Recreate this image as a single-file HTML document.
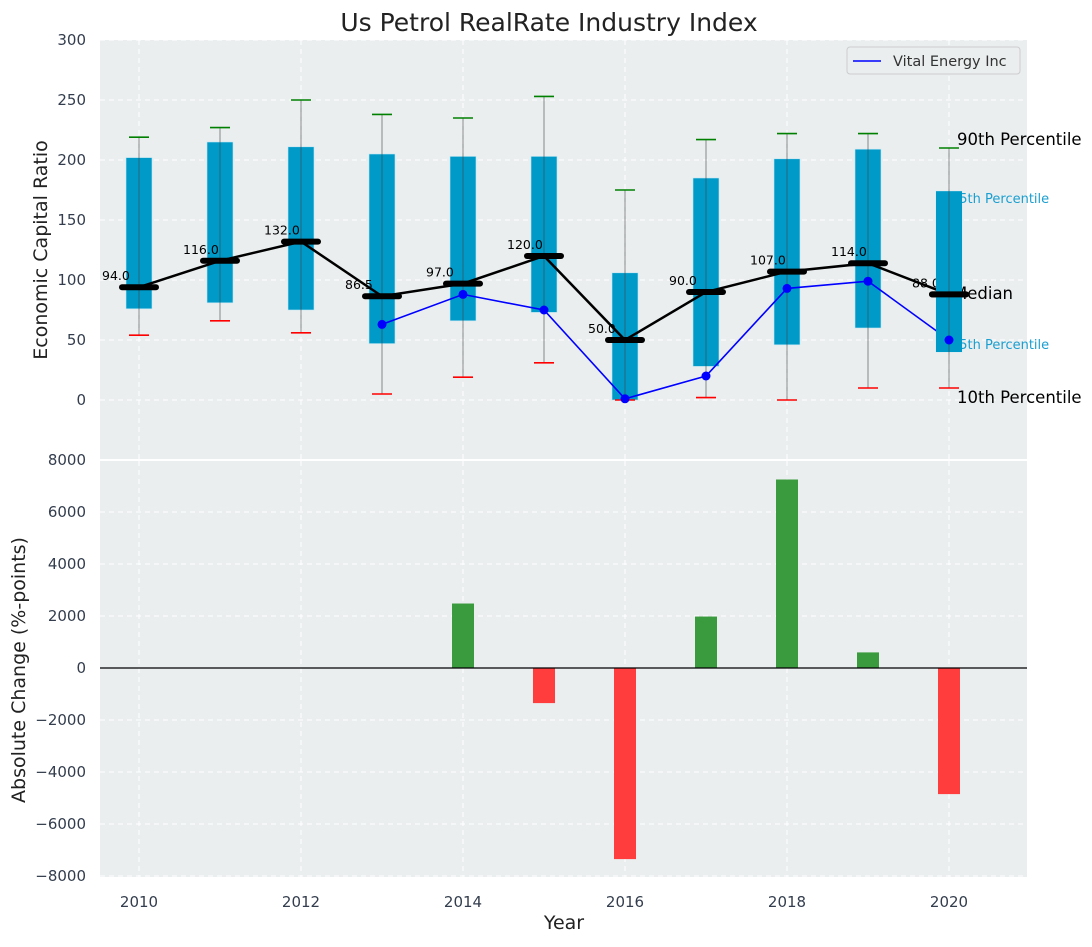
<!DOCTYPE html>
<html><head><meta charset="utf-8"><style>
body{margin:0;background:#fff;font-family:"Liberation Sans","DejaVu Sans",sans-serif}
svg text{font-family:"DejaVu Sans","Liberation Sans",sans-serif}
</style></head><body>
<svg id="chart" width="1092" height="942" xmlns="http://www.w3.org/2000/svg">
<rect width="1092" height="942" fill="#fff"/>
<text x="549" y="31" font-size="25" text-anchor="middle" fill="#222">Us Petrol RealRate Industry Index</text>
<g id="topPanel"></g>
<g id="botPanel"></g>
</svg>
<script>
const years=[2010,2011,2012,2013,2014,2015,2016,2017,2018,2019,2020];
const p10=[54,66,56,5,19,31,0,2,0,10,10];
const p25=[76,81,75,47,66,73,0,28,46,60,40];
const p50=[94,116,132,86.5,97,120,50,90,107,114,88];
const p75=[202,215,211,205,203,203,106,185,201,209,174];
const p90=[219,227,250,238,235,253,175,217,222,222,210];
const vitalYears=[2013,2014,2015,2016,2017,2018,2019,2020];
const vitalVals=[63,88,75,1,20,93,99,50];
const changeYears=[2014,2015,2016,2017,2018,2019,2020];
const changeVals=[2480,-1350,-7350,1980,7250,600,-4850];
const topTicks=[0,50,100,150,200,250,300];
const botTicks=[-8000,-6000,-4000,-2000,0,2000,4000,6000,8000];
const xTicks=[2010,2012,2014,2016,2018,2020];

const NS="http://www.w3.org/2000/svg";
const L=100,R=1027;
const xs=y=>139+81*(y-2010);
const yt=v=>400-1.2*v;
const yb=v=>668-0.026*v;
function mk(p,tag,a,txt){const el=document.createElementNS(NS,tag);for(const k in a)el.setAttribute(k,a[k]);if(txt!=null)el.textContent=txt;p.appendChild(el);return el;}
const topG=document.getElementById('topPanel'),botG=document.getElementById('botPanel');
let e;

e=mk(topG,'rect',{x:L,y:40,width:R-L,height:419,fill:'#eaeeef'});


e=mk(botG,'rect',{x:L,y:461,width:R-L,height:416,fill:'#eaeeef'});



xTicks.forEach(t=>{
 e=mk(topG,'line',{x1:xs(t),x2:xs(t),y1:40,y2:459,stroke:'#fff','stroke-dasharray':'5,4','stroke-width':1});
 
 
 e=mk(botG,'line',{x1:xs(t),x2:xs(t),y1:461,y2:877,stroke:'#fff','stroke-dasharray':'5,4','stroke-width':1});
 
 
 e=mk(botG,'text',{x:xs(t),y:907,'font-size':15,'text-anchor':'middle',fill:'#333d4d'},t);
 
 
});
topTicks.forEach(t=>{
 e=mk(topG,'line',{x1:L,x2:R,y1:yt(t),y2:yt(t),stroke:'#fff','stroke-dasharray':'5,4','stroke-width':1});
 
 
 e=mk(topG,'text',{x:86,y:yt(t)+5,'font-size':15,'text-anchor':'end',fill:'#333d4d'},t);
 
 
});
botTicks.forEach(t=>{
 e=mk(botG,'line',{x1:L,x2:R,y1:yb(t),y2:yb(t),stroke:'#fff','stroke-dasharray':'5,4','stroke-width':1});
 
 
 e=mk(botG,'text',{x:86,y:yb(t)+5,'font-size':15,'text-anchor':'end',fill:'#333d4d'},t<0?'\u2212'+(-t):t);
 
 
});

years.forEach((yr,i)=>{
 const cx=xs(yr);
 e=mk(topG,'rect',{x:cx-13,y:yt(p75[i]),width:26,height:yt(p25[i])-yt(p75[i]),fill:'#009ac9',stroke:'#bfe6f2','stroke-width':0.6});
 
 
 e=mk(topG,'line',{x1:cx,x2:cx,y1:yt(p90[i]),y2:yt(p10[i]),stroke:'#444','stroke-opacity':0.6,'stroke-width':1});
 
 
 e=mk(topG,'line',{x1:cx-10,x2:cx+10,y1:yt(p90[i]),y2:yt(p90[i]),stroke:'green','stroke-width':1.6});
 
 
 e=mk(topG,'line',{x1:cx-10,x2:cx+10,y1:yt(p10[i]),y2:yt(p10[i]),stroke:'red','stroke-width':1.6});
 
 
});
e=mk(topG,'polyline',{points:years.map((yr,i)=>xs(yr)+','+yt(p50[i])).join(' '),fill:'none',stroke:'#000','stroke-width':2.5});


years.forEach((yr,i)=>{
 e=mk(topG,'line',{x1:xs(yr)-17,x2:xs(yr)+17,y1:yt(p50[i]),y2:yt(p50[i]),stroke:'#000','stroke-width':6,'stroke-linecap':'round'});
 
 
 e=mk(topG,'text',{x:xs(yr)-37,y:yt(p50[i])-7,'font-size':12.5,fill:'#000'},p50[i].toFixed(1));
 
 
});
e=mk(topG,'polyline',{points:vitalYears.map((yr,i)=>xs(yr)+','+yt(vitalVals[i])).join(' '),fill:'none',stroke:'#0000ff','stroke-width':1.6});


vitalYears.forEach((yr,i)=>{
 e=mk(topG,'circle',{cx:xs(yr),cy:yt(vitalVals[i]),r:4.5,fill:'#0000ff'});
 
 
});
const lx=xs(2020)+8;
[['90th Percentile',145,'#000',16.5,'label-90th',lx],['75th Percentile',203,'#1a9fd0',13,'label-75th',lx-6],['Median',299,'#000',16.5,'label-median',lx-4],['25th Percentile',349,'#1a9fd0',13,'label-25th',lx-6],['10th Percentile',403,'#000',16.5,'label-10th',lx]].forEach(a=>{
 e=mk(topG,'text',{x:a[5],y:a[1],'font-size':a[3],fill:a[2]},a[0]);
 
 
});
e=mk(topG,'rect',{x:xs(2020)-13,y:yt(p75[10]),width:26,height:yt(p25[10])-yt(p75[10]),fill:'#009ac9'});


e=mk(topG,'line',{x1:xs(2020),x2:xs(2020),y1:yt(p75[10]),y2:yt(p25[10]),stroke:'#444','stroke-opacity':0.6});


e=mk(topG,'line',{x1:xs(2020)-17,x2:xs(2020)+17,y1:yt(p50[10]),y2:yt(p50[10]),stroke:'#000','stroke-width':6,'stroke-linecap':'round'});


e=mk(topG,'circle',{cx:xs(2020),cy:yt(vitalVals[7]),r:4.5,fill:'#0000ff'});



e=mk(topG,'rect',{x:847,y:47,width:173,height:27,rx:3,fill:'#eaeeef',stroke:'#ccc'});


e=mk(topG,'line',{x1:853,x2:881,y1:61,y2:61,stroke:'#0000ff','stroke-width':1.6});


e=mk(topG,'text',{x:893,y:66,'font-size':14.5,fill:'#333'},'Vital Energy Inc');



changeYears.forEach((yr,i)=>{
 const v=changeVals[i];
 e=mk(botG,'rect',{x:xs(yr)-11,y:Math.min(yb(v),yb(0)),width:22,height:Math.abs(yb(v)-yb(0)),fill:v>=0?'#3a9b3e':'#ff3d3d'});
 
 
});
e=mk(botG,'line',{x1:L,x2:R,y1:yb(0),y2:yb(0),stroke:'#000','stroke-width':1.2});



e=mk(topG,'text',{x:47,y:250,'font-size':19,'text-anchor':'middle',fill:'#222',transform:'rotate(-90 47 250)'},'Economic Capital Ratio');


e=mk(botG,'text',{x:25,y:670,'font-size':19,'text-anchor':'middle',fill:'#222',transform:'rotate(-90 25 670)'},'Absolute Change (%-points)');


e=mk(botG,'text',{x:564,y:929,'font-size':19,'text-anchor':'middle',fill:'#222'},'Year');


</script>
</body></html>
